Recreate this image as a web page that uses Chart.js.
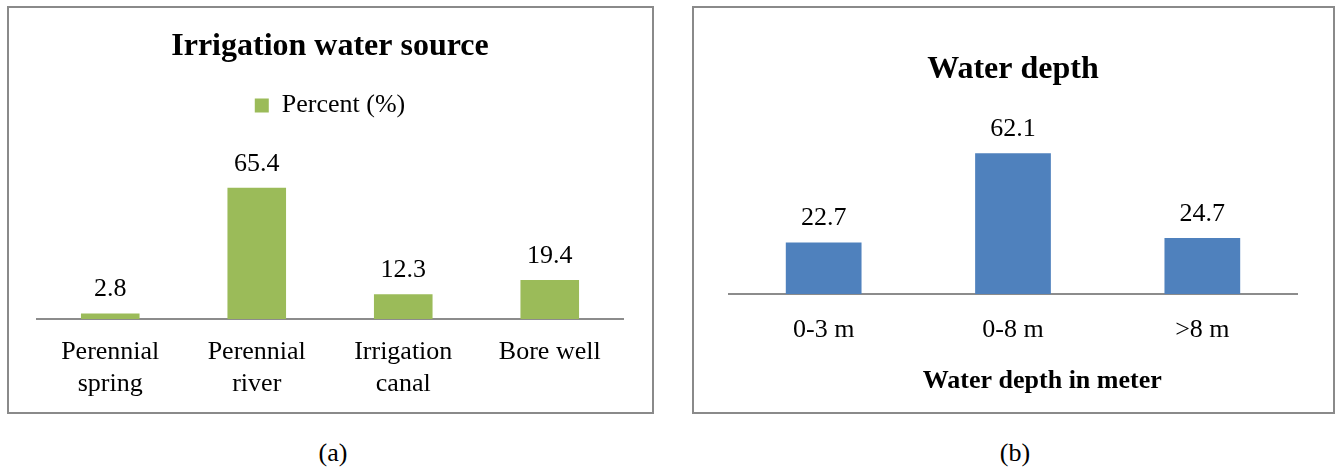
<!DOCTYPE html>
<html>
<head>
<meta charset="utf-8">
<script src="https://cdn.jsdelivr.net/npm/chart.js@4.4.0/dist/chart.umd.min.js"></script>
<style>
  body { margin: 0; background: #fff; width: 1335px; height: 468px; position: relative; overflow: hidden;
         font-family: 'Liberation Serif', 'Times New Roman', serif; }
  .panel { position: absolute; box-sizing: border-box; border: 2px solid #8a8a8a; background: #fff; }
  #panelA { left: 7px; top: 6px; width: 647px; height: 408px; }
  #panelB { left: 692px; top: 6px; width: 643px; height: 408px; }
  .box { position: relative; }
  #boxA { width: 643px; height: 404px; }
  #boxB { width: 639px; height: 404px; }
  .caption { position: absolute; top: 437px; width: 100px; font-size: 26px; line-height: 32px; text-align: center; color: #000; }
</style>
</head>
<body>
<div class="panel" id="panelA"><div class="box" id="boxA"><canvas id="sourceChart"></canvas></div></div>
<div class="panel" id="panelB"><div class="box" id="boxB"><canvas id="depthChart"></canvas></div></div>
<div class="caption" style="left:283px;">(a)</div>
<div class="caption" style="left:965px;">(b)</div>

<script>
// ===== DATA =====
const sourceLabels = [['Perennial', 'spring'], ['Perennial', 'river'], ['Irrigation', 'canal'], 'Bore well'];
const sourceValues = [2.8, 65.4, 12.3, 19.4];

const depthLabels = ['0-3 m', '0-8 m', '>8 m'];
const depthValues = [22.7, 62.1, 24.7];

const FONT = "'Liberation Serif', 'Times New Roman', serif";
const AXIS_COLOR = '#8c8c8c';

// ===== VALUE LABELS ABOVE BARS =====
const valueLabels = {
    id: 'valueLabels',
    afterDatasetsDraw(chart) {
        const ctx = chart.ctx;
        const meta = chart.getDatasetMeta(0);
        const values = chart.data.datasets[0].data;
        ctx.save();
        ctx.font = '26px ' + FONT;
        ctx.fillStyle = '#000';
        ctx.textAlign = 'center';
        ctx.textBaseline = 'middle';
        meta.data.forEach((bar, i) => {
            ctx.fillText(values[i].toFixed(1), bar.x, bar.y - 24);
        });
        ctx.restore();
    }
};

// ===== IRRIGATION WATER SOURCE =====
function initSourceChart() {
    const ctx = document.getElementById('sourceChart');
    new Chart(ctx.getContext('2d'), {
        type: 'bar',
        data: {
            labels: sourceLabels,
            datasets: [{
                label: 'Percent (%)',
                data: sourceValues,
                backgroundColor: '#9bbb59',
                borderWidth: 0,
                categoryPercentage: 1,
                barPercentage: 0.4
            }]
        },
        options: {
            responsive: true,
            maintainAspectRatio: false,
            animation: false,
            layout: { padding: { left: 28, right: 29, top: 0, bottom: 0 } },
            plugins: {
                title: {
                    display: true,
                    text: 'Irrigation water source',
                    color: '#000',
                    font: { family: FONT, size: 32, weight: 'bold' },
                    padding: { top: 20, bottom: 16 }
                },
                legend: {
                    display: true,
                    labels: {
                        color: '#000',
                        font: { family: FONT, size: 26 },
                        boxWidth: 14,
                        boxHeight: 14,
                        padding: 10
                    }
                },
                tooltip: { enabled: false }
            },
            scales: {
                x: {
                    grid: { display: false },
                    border: { display: true, color: AXIS_COLOR, width: 2 },
                    ticks: {
                        color: '#000',
                        font: { family: FONT, size: 26 },
                        padding: 10,
                        maxRotation: 0,
                        autoSkip: false
                    },
                    afterFit(scale) { scale.height = 93; }
                },
                y: { display: false, min: 0, max: 95 }
            }
        },
        plugins: [valueLabels]
    });
}

// ===== WATER DEPTH =====
function initDepthChart() {
    const ctx = document.getElementById('depthChart');
    new Chart(ctx.getContext('2d'), {
        type: 'bar',
        data: {
            labels: depthLabels,
            datasets: [{
                label: 'Water depth',
                data: depthValues,
                backgroundColor: '#4f81bd',
                borderWidth: 0,
                categoryPercentage: 1,
                barPercentage: 0.4
            }]
        },
        options: {
            responsive: true,
            maintainAspectRatio: false,
            animation: false,
            layout: { padding: { left: 35, right: 36, top: 0, bottom: 0 } },
            plugins: {
                title: {
                    display: true,
                    text: 'Water depth',
                    color: '#000',
                    font: { family: FONT, size: 32, weight: 'bold' },
                    padding: { top: 43, bottom: 46 }
                },
                legend: { display: false },
                tooltip: { enabled: false }
            },
            scales: {
                x: {
                    grid: { display: false },
                    border: { display: true, color: AXIS_COLOR, width: 2 },
                    ticks: {
                        color: '#000',
                        font: { family: FONT, size: 26 },
                        padding: 13,
                        maxRotation: 0,
                        autoSkip: false
                    },
                    title: {
                        display: true,
                        // leading spaces push the title right, as in the source figure
                        text: '         Water depth in meter',
                        color: '#000',
                        font: { family: FONT, size: 26, weight: 'bold' },
                        padding: { top: 21, bottom: 15 }
                    },
                    afterFit(scale) { scale.height = 118; }
                },
                y: { display: false, min: 0, max: 70 }
            }
        },
        plugins: [valueLabels]
    });
}

initSourceChart();
initDepthChart();
</script>
</body>
</html>
